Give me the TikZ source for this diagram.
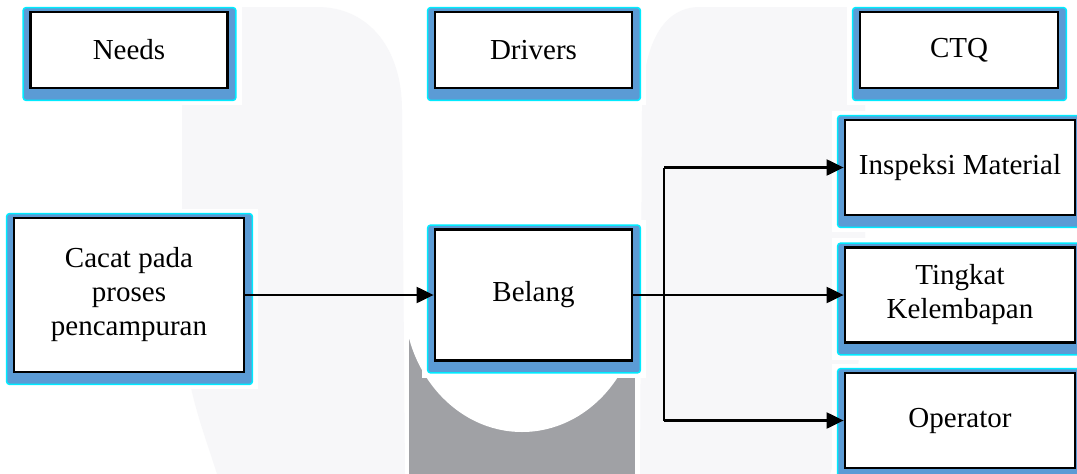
\documentclass[tikz,border=0pt]{standalone}
\usepackage{fontspec}
\setmainfont{Liberation Serif}
\usetikzlibrary{arrows.meta}
\pgfdeclarelayer{wm}
\pgfdeclarelayer{marg}
\pgfdeclarelayer{shad}
\pgfsetlayers{wm,marg,shad,main}
\definecolor{shblue}{RGB}{91,155,213}
\definecolor{shcyan}{RGB}{0,235,255}
\definecolor{wmlight}{RGB}{247,247,249}
\definecolor{wmdark}{RGB}{160,161,165}
\begin{document}
\begin{tikzpicture}[x=1pt,y=-1pt,
  box/.style={draw=black, line width=2.8pt, fill=white, inner sep=0pt, align=center,
    font=\fontsize{29}{34}\selectfont},
  conn/.style={line width=2.2pt, draw=black},
  arr/.style={conn, -{Triangle[length=17pt,width=16pt]}}]
\useasboundingbox (0,0) rectangle (1077,474);

% nodes
\node[box, minimum width=197pt, minimum height=76pt] (needs) at (129,50) {Needs};
\node[box, minimum width=197pt, minimum height=76pt] (drivers) at (533.5,50) {Drivers};
\node[box, minimum width=198pt, minimum height=76pt] (ctq) at (959,50) {CTQ};
\node[box, minimum width=230pt, minimum height=154pt] (cacat) at (129,295) {Cacat pada\\proses\\pencampuran};
\node[box, minimum width=197pt, minimum height=131pt] (belang) at (533.5,295) {Belang};
\node[box, minimum width=230pt, minimum height=95pt] (insp) at (960,167.5) {Inspeksi Material};
\node[box, minimum width=230pt, minimum height=95pt] (tingkat) at (960,295) {Tingkat\\Kelembapan};
\node[box, minimum width=230pt, minimum height=95pt] (oper) at (960,420.5) {Operator};

% white margins and blue shadows
\begin{pgfonlayer}{marg}
\foreach \n in {needs,drivers,ctq,cacat,belang,insp,tingkat,oper} {
  \fill[white] ([xshift=-12pt,yshift=8pt]\n.north west) rectangle ([xshift=13pt,yshift=-16pt]\n.south east);
}
\end{pgfonlayer}
\begin{pgfonlayer}{shad}
\foreach \n in {needs,drivers,ctq,cacat,belang,insp,tingkat,oper} {
  \filldraw[fill=shblue, draw=shcyan, line width=1.5pt, rounded corners=3pt]
    ([xshift=-6pt,yshift=3pt]\n.north west) rectangle ([xshift=7pt,yshift=-11pt]\n.south east);
}
\end{pgfonlayer}

% watermark
\begin{pgfonlayer}{wm}
\fill[white] (0,0) rectangle (1077,474);
\fill[wmlight] (182,7) -- (317,7) .. controls (370,7) and (402,50) .. (402,110)
  -- (405,474) -- (217,474) .. controls (200,420) and (182,380) .. (182,300) -- cycle;
\fill[wmlight] (640,474) -- (642,110) .. controls (642,50) and (660,7) .. (700,7)
  -- (865,7) -- (865,250) .. controls (865,380) and (845,430) .. (830,474) -- cycle;
\fill[wmdark] (409,300) rectangle (635,474);
\begin{scope}
  \clip (409,300) rectangle (635,474);
  \fill[white] (522,300) ellipse [x radius=118, y radius=132];
\end{scope}
\end{pgfonlayer}

% connectors
\coordinate (jt) at (664,167.5);
\coordinate (jb) at (664,420.5);
\draw[arr] (cacat.east) -- (belang.west);
\draw[arr] (belang.east) -- (tingkat.west);
\draw[conn] (jt) -- (jb);
\draw[arr] (jt) -- (insp.west);
\draw[arr] (jb) -- (oper.west);
\end{tikzpicture}
\end{document}
